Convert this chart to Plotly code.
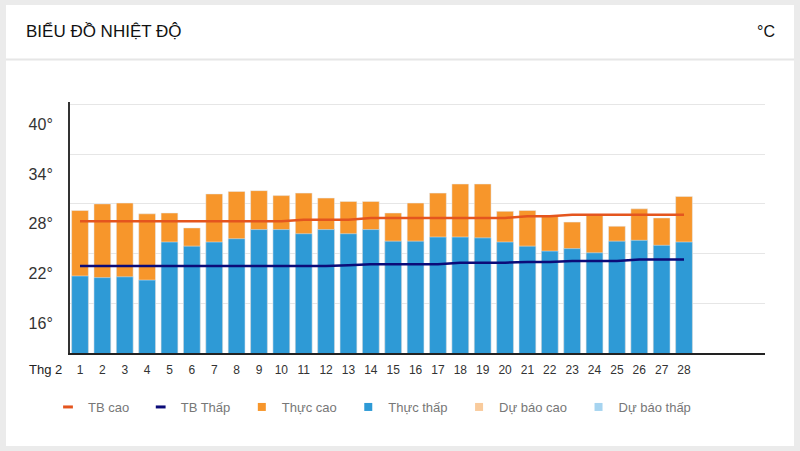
import plotly.graph_objects as go

days = list(range(1, 29))
thuc_cao = [27.2, 28.0, 28.1, 26.8, 26.9, 25.1, 29.2, 29.5, 29.6, 29.0,
            29.3, 28.7, 28.3, 28.3, 26.9, 28.1, 29.3, 30.4, 30.4, 27.1,
            27.2, 26.5, 25.8, 26.7, 25.3, 27.4, 26.3, 28.9]
thuc_thap = [19.3, 19.1, 19.2, 18.8, 23.4, 22.9, 23.4, 23.8, 24.9, 24.9,
             24.4, 24.9, 24.4, 24.9, 23.5, 23.5, 24.0, 24.0, 23.9, 23.4,
             22.9, 22.3, 22.6, 22.1, 23.5, 23.6, 23.0, 23.4]
tb_cao = [25.9] * 10 + [26.1] * 3 + [26.3] * 7 + [26.5] * 2 + [26.7] * 6
tb_thap = [20.5] * 12 + [20.6] + [20.7] * 4 + [20.9] * 3 + [21.0] * 2 + [21.1] * 3 + [21.3] * 3
y_ticks = [16, 22, 28, 34, 40]
y_ticktext = ["16°", "22°", "28°", "34°", "40°"]

C_CAO = "#F7962B"
C_THAP = "#2E9AD6"
C_TBCAO = "#E4551E"
C_TBTHAP = "#0B0B78"
C_DBCAO = "#F9CB9C"
C_DBTHAP = "#A6D4F0"

SANS = "Liberation Sans, Arial, sans-serif"
PAD = "\u2002"

fig = go.Figure()

fig.add_trace(go.Bar(x=days, y=thuc_cao, name="Thực cao", marker_color=C_CAO,
                     width=0.75, showlegend=False, legendgroup="cao"))
fig.add_trace(go.Bar(x=days, y=thuc_thap, name="Thực thấp", marker_color=C_THAP,
                     width=0.75, showlegend=False, legendgroup="thap"))
fig.add_trace(go.Scatter(x=days, y=tb_cao, mode="lines", name="TB cao",
                         line=dict(color=C_TBCAO, width=2.5), showlegend=False,
                         legendgroup="tbcao"))
fig.add_trace(go.Scatter(x=days, y=tb_thap, mode="lines", name="TB Thấp",
                         line=dict(color=C_TBTHAP, width=2.5), showlegend=False,
                         legendgroup="tbthap"))


def leg_line(name, color, group):
    fig.add_trace(go.Scatter(x=[None], y=[None], mode="markers", name=name + PAD,
                             legendgroup=group,
                             marker=dict(symbol="line-ew", size=7,
                                         line=dict(color=color, width=3))))


def leg_sq(name, color, group):
    fig.add_trace(go.Scatter(x=[None], y=[None], mode="markers", name=name + PAD,
                             legendgroup=group,
                             marker=dict(symbol="square", size=8, color=color)))


leg_line("TB cao", C_TBCAO, "tbcao")
leg_line("TB Thấp", C_TBTHAP, "tbthap")
leg_sq("Thực cao", C_CAO, "cao")
leg_sq("Thực thấp", C_THAP, "thap")
leg_sq("Dự báo cao", C_DBCAO, "dbcao")
leg_sq("Dự báo thấp", C_DBTHAP, "dbthap")

L, R, T, B = 70, 35, 102, 98
PW, PH = 800 - L - R, 451 - T - B


def px(xp):
    return (xp - L) / PW


def py(yp):
    return (451 - B - yp) / PH


shapes = [
    dict(type="rect", xref="paper", yref="paper", x0=px(6), x1=px(794),
         y0=py(446), y1=py(5), fillcolor="white", line=dict(width=0), layer="below"),
    dict(type="line", xref="paper", yref="paper", x0=px(6), x1=px(794),
         y0=py(59.5), y1=py(59.5), line=dict(color="#e6e6e6", width=2), layer="below"),
]

annotations = [
    dict(text="BIỂU ĐỒ NHIỆT ĐỘ", xref="paper", yref="paper", x=px(24), y=py(31),
         xanchor="left", yanchor="middle", showarrow=False,
         font=dict(family=SANS, size=17, color="#111")),
    dict(text="°C", xref="paper", yref="paper", x=px(777), y=py(31),
         xanchor="right", yanchor="middle", showarrow=False,
         font=dict(family=SANS, size=16, color="#111")),
    dict(text="Thg 2", xref="paper", yref="paper", x=px(45), y=py(369),
         xanchor="center", yanchor="middle", showarrow=False,
         font=dict(family=SANS, size=13, color="#222")),
]

fig.update_layout(
    width=800, height=451,
    margin=dict(l=L, r=R, t=T, b=B, pad=0),
    paper_bgcolor="#ebebeb",
    plot_bgcolor="white",
    barmode="overlay",
    shapes=shapes,
    annotations=annotations,
    font=dict(family=SANS, color="#333"),
    legend=dict(orientation="h", x=px(48), y=py(392), xanchor="left", yanchor="top",
                font=dict(family=SANS, size=13, color="#777"),
                bgcolor="rgba(0,0,0,0)", itemclick=False, itemdoubleclick=False,
                tracegroupgap=0),
    xaxis=dict(range=[0.553, 31.62], tickmode="array", tickvals=days,
               ticktext=[str(d) for d in days], showgrid=False, zeroline=False,
               showline=True, linecolor="#222", linewidth=2, ticks="",
               tickfont=dict(family=SANS, size=12, color="#333"),
               ticklabelstandoff=5, fixedrange=True),
    yaxis=dict(range=[10, 40.3], tickmode="array", tickvals=y_ticks, ticktext=y_ticktext,
               showgrid=True, gridcolor="#e6e6e6", gridwidth=1, zeroline=False,
               showline=True, linecolor="#333", linewidth=2, ticks="",
               tickfont=dict(family=SANS, size=16, color="#333"),
               ticklabelshift=20, ticklabelstandoff=12, fixedrange=True),
)

fig.write_html("out.html", config={"displayModeBar": False},
               post_script="document.body.style.margin='0';")
